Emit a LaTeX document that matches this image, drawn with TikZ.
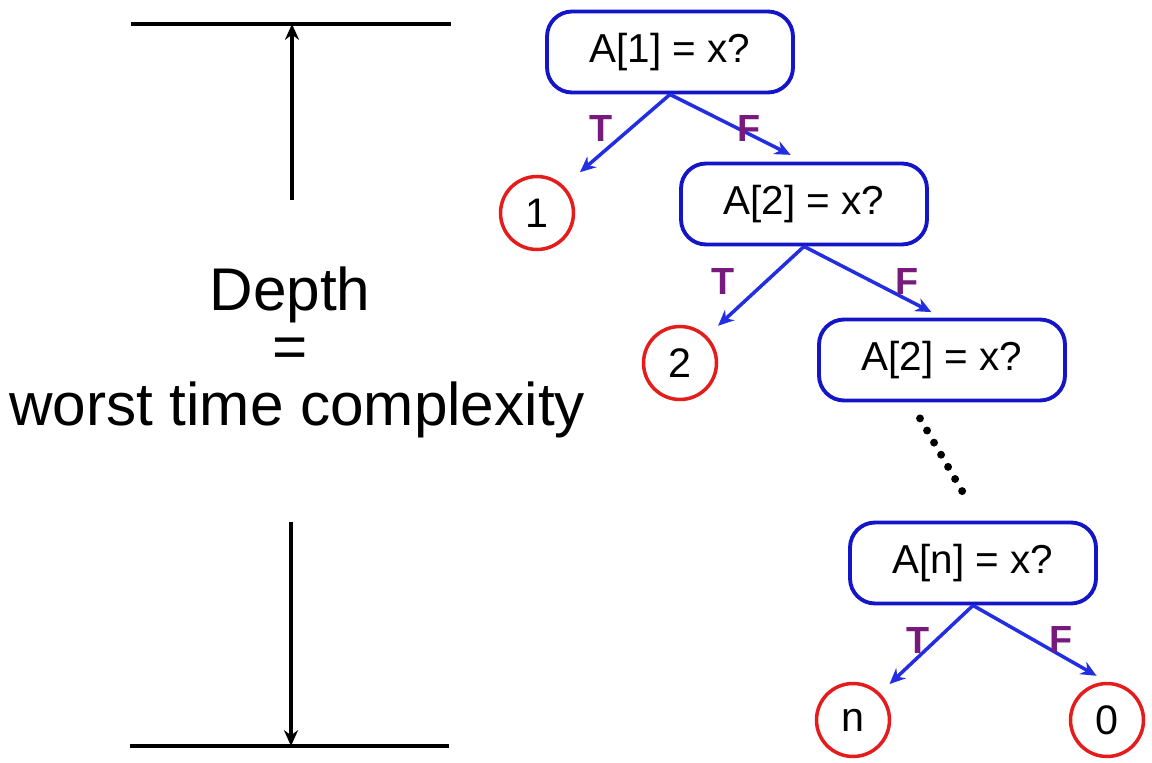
\documentclass[tikz,border=0pt]{standalone}
\usepackage{fontspec}
\setmainfont{Liberation Sans}
\usetikzlibrary{arrows.meta}
\definecolor{boxblue}{RGB}{20,20,200}
\definecolor{arrblue}{RGB}{35,45,225}
\definecolor{leafred}{RGB}{228,28,28}
\definecolor{labpurple}{RGB}{120,25,125}

\begin{document}
\begin{tikzpicture}[
        x={(0.02cm,0cm)},
        y={(0cm,-0.02cm)},
        line join=round,
        % 判定框
        test/.style={draw=boxblue,line width=2.2pt,rounded corners=0.5cm,
            minimum width=4.92cm,minimum height=1.62cm,inner sep=0pt,
            font=\fontsize{23}{27}\selectfont},
        % 叶子结点
        leaf/.style={circle,draw=leafred,line width=2pt,minimum size=1.46cm,
            inner sep=0pt,font=\fontsize{23.5}{27}\selectfont},
        % 分支箭头与标签
        branch/.style={-{Stealth[length=9pt,width=8pt]},draw=arrblue,line width=2pt,
            shorten >=0.3cm},
        tf/.style={text=labpurple,inner sep=0pt,
            font=\fontsize{21.5}{24}\selectfont\bfseries},
        % 左侧深度标尺
        bar/.style={line width=2.3pt},
        depth/.style={-{Stealth[length=9pt,width=8pt]},line width=1.9pt},
        big/.style={font=\fontsize{34.3}{40}\selectfont,inner sep=0pt},
    ]
    \useasboundingbox (0,0) rectangle (1152,763);

    % 标尺端点
    \coordinate (topL) at (131,24);
    \coordinate (topR) at (451,24);
    \coordinate (topM) at (292,24);
    \coordinate (upS)  at (292,200);
    \coordinate (botL) at (130,746);
    \coordinate (botR) at (449,746);
    \coordinate (botM) at (291,746);
    \coordinate (dnS)  at (291,522);

    \draw[bar] (topL) -- (topR);
    \draw[bar] (botL) -- (botR);
    \draw[depth] (upS) -- (topM);
    \draw[depth] (dnS) -- (botM);

    % 说明文字
    \node[big] (lblDepth) at (290,295) {Depth};
    \node[big] (lblEq)    at (290,353) {=};
    \node[big] (lblWorst) at (297,410) {worst time complexity};

    % 判定树
    \node[test] (b1) at (670,52)  {A[1] = x?};
    \node[test] (b2) at (804,204) {A[2] = x?};
    \node[test] (b3) at (942,360) {A[2] = x?};
    \node[test] (b4) at (973,563) {A[n] = x?};

    \node[leaf] (c1) at (537,213)  {1};
    \node[leaf] (c2) at (680,363)  {2};
    \node[leaf] (cn) at (853,720)  {n};
    \node[leaf] (c0) at (1107,720) {0};

    \draw[branch,shorten >=0.42cm] (b1.south) -- (c1.north east);
    \draw[branch] (b1.south) -- (b2.north);
    \draw[branch] (b2.south) -- (c2.north east);
    \draw[branch,shorten >=0.24cm] (b2.south) -- (b3.north);
    \draw[branch,shorten >=0.26cm] (b4.south) -- (cn.north east);
    \draw[branch,shorten >=0.24cm] (b4.south) -- (c0.north);

    \node[tf] (t1) at (601,129)  {T};
    \node[tf] (f1) at (749,129)  {F};
    \node[tf] (t2) at (723,282)  {T};
    \node[tf] (f2) at (907,282)  {F};
    \node[tf] (t4) at (918,641)  {T};
    \node[tf] (f4) at (1061,640) {F};

    % 省略号
    \draw[line width=4.5pt,line cap=round,dash pattern=on 0pt off 0.28cm]
        ([xshift=-0.44cm,yshift=-0.32cm]b3.south) -- ([xshift=-0.2cm,yshift=0.56cm]b4.north);
\end{tikzpicture}
\end{document}
